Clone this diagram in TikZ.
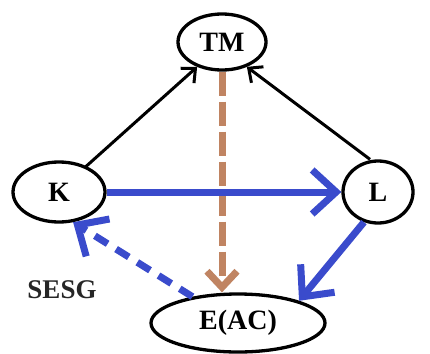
\documentclass[tikz,border=0pt]{standalone}
\usepackage{fontspec}
\setmainfont{Liberation Serif}
\usetikzlibrary{shapes.geometric,arrows.meta}
\definecolor{myblue}{HTML}{3A4BCC}
\definecolor{mybrown}{HTML}{C08462}
\begin{document}
\begin{tikzpicture}[x=1pt,y=-1pt,
  ell/.style={ellipse,draw=black,line width=3.3pt,fill=white,inner sep=0pt,
    font=\fontsize{28}{32}\selectfont\bfseries},
  blk/.style={draw=black,line width=3pt,-{Straight Barb[length=11pt,width=20pt,line width=3pt]}},
  blu/.style={draw=myblue,line width=7pt,-{Straight Barb[length=24pt,width=44pt,line width=7pt]}},
  brn/.style={draw=mybrown,line width=7pt,dash pattern=on 24pt off 6pt,-{Straight Barb[length=16pt,width=30pt,line width=7pt]}}]
\useasboundingbox[fill=white] (0,0) rectangle (430,353);
\node[ell,minimum width=88pt,minimum height=56pt] (tm) at (222,42) {TM};
\node[ell,minimum width=92pt,minimum height=60pt] (k) at (59,192) {K};
\node[ell,minimum width=70pt,minimum height=62pt] (l) at (378,192) {L};
\node[ell,minimum width=174pt,minimum height=58pt] (e) at (238,323) {E(AC)};
\node[font=\fontsize{27}{30}\selectfont\bfseries,text=black!85] (s) at (62,290) {SESG};
\draw[brn] (tm.south) -- (e.north -| tm.south);
\draw[blk] (k.north east) ++(-8,-2) coordinate (k1) (k1) -- (tm.-135);
\draw[blk] (l.north) ++(-8,0) coordinate (l1) (l1) -- (tm.-45);
\draw[blu] (k.east) -- (l.west);
\draw[blu] (l.-115) -- (e.20);
\draw[blu,dash pattern=on 15pt off 10pt,line cap=butt] (e.150) -- (k.-65);
\end{tikzpicture}
\end{document}
